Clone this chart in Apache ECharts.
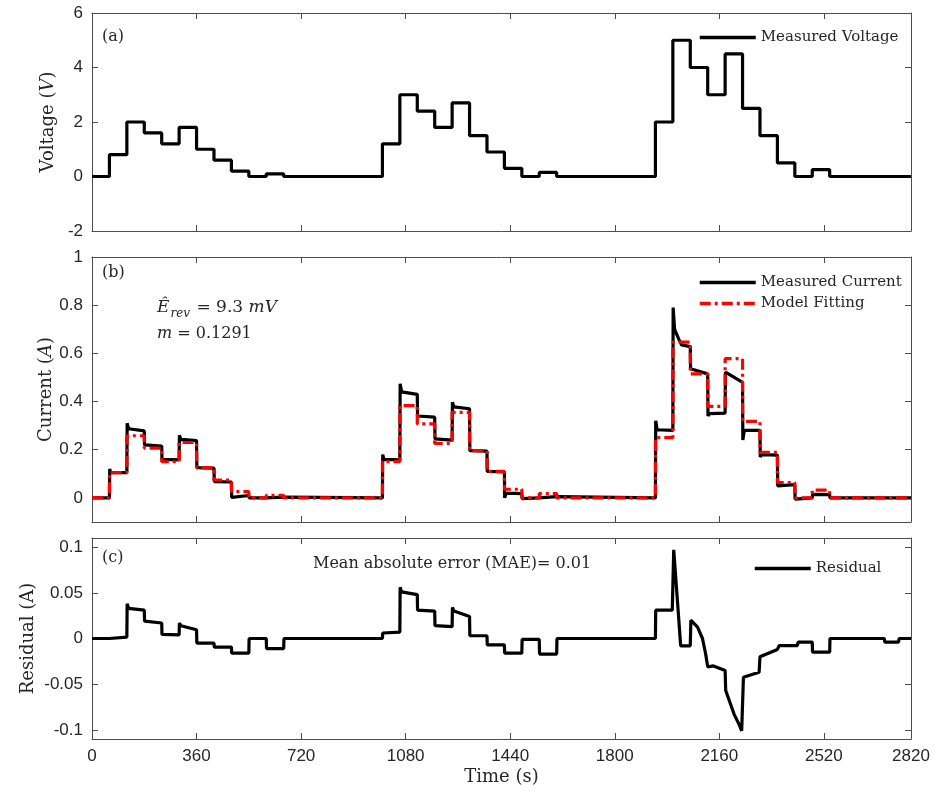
<!DOCTYPE html>
<html>
<head>
<meta charset="utf-8">
<script src="https://cdn.jsdelivr.net/npm/echarts@6/dist/echarts.min.js"></script>
<style>
html,body{margin:0;padding:0;background:#fff;}
#chart{width:934px;height:796px;}
</style>
</head>
<body>
<div id="chart"></div>
<script>
// ---- tick labels ----
const xTicks = [0, 360, 720, 1080, 1440, 1800, 2160, 2520, 2820];
const voltTicks = [-2, 0, 2, 4, 6];
const currTicks = [0, 0.2, 0.4, 0.6, 0.8, 1];
const resTicks = [-0.1, -0.05, 0, 0.05, 0.1];

// ---- step change times (s) ----
const stepTimes = [0,
  60, 120, 180, 240, 300, 360, 420, 480, 540, 600, 660,
  1000, 1060, 1120, 1180, 1240, 1300, 1360, 1420, 1480, 1540, 1600,
  1940, 2000, 2060, 2120, 2180, 2240, 2300, 2360, 2420, 2480, 2540,
  2820];

// ---- measured voltage (V), value held from each step time ----
const voltage = [0,
  0.8, 2.0, 1.6, 1.2, 1.8, 1.0, 0.6, 0.2, 0, 0.1, 0,
  1.2, 3.0, 2.4, 1.8, 2.7, 1.5, 0.9, 0.3, 0, 0.15, 0,
  2.0, 5.0, 4.0, 3.0, 4.5, 2.5, 1.5, 0.5, 0, 0.25, 0,
  0];

// ---- model fitting current (A), value held from each step time ----
const modelCurrent = [0,
  0.105, 0.258, 0.207, 0.15, 0.23, 0.125, 0.074, 0.026, 0, 0.011, 0,
  0.151, 0.383, 0.307, 0.226, 0.355, 0.196, 0.11, 0.036, 0, 0.018, 0,
  0.25, 0.647, 0.515, 0.38, 0.578, 0.318, 0.189, 0.064, 0, 0.032, 0,
  0];

// ---- measured current (A): [time, value] ----
const measuredCurrent = [
  [0,0],[60,0],[61,0.12],[64,0.105],[120,0.105],[121,0.31],[126,0.287],[180,0.278],[181,0.22],
  [240,0.215],[241,0.16],[300,0.158],[301,0.26],[306,0.243],[360,0.238],[361,0.126],[420,0.124],
  [421,0.068],[480,0.066],[481,0.002],[486,0.01],[540,0.01],[541,0],[600,0],[601,0.003],[660,0.003],[661,0],
  [1000,0],[1001,0.18],[1005,0.16],[1060,0.158],[1061,0.474],[1066,0.44],[1120,0.43],[1121,0.34],
  [1180,0.335],[1181,0.245],[1240,0.24],[1241,0.397],[1246,0.378],[1300,0.37],[1301,0.196],[1360,0.194],
  [1361,0.11],[1420,0.108],[1421,0.0],[1426,0.02],[1480,0.018],[1481,-0.003],[1486,0],[1540,0],
  [1541,0.006],[1600,0.005],[1601,0],
  [1940,0],[1941,0.32],[1946,0.283],[2000,0.28],[2001,0.79],[2006,0.7],[2020,0.66],[2030,0.635],
  [2060,0.628],[2061,0.536],[2120,0.515],[2121,0.34],[2126,0.35],[2180,0.352],[2181,0.522],[2240,0.48],
  [2241,0.24],[2246,0.28],[2300,0.28],[2301,0.17],[2306,0.18],[2360,0.178],[2361,0.05],[2366,0.057],
  [2420,0.055],[2421,-0.005],[2426,0],[2480,0],[2481,0.015],[2540,0.014],[2541,0],[2820,0]
];

// ---- residual (A): [time, value] ----
const residual = [
  [0,0],[60,0],[61,0.0015],[120,0.0015],[121,0.038],[126,0.033],[180,0.031],[181,0.019],[240,0.017],
  [241,0.0045],[300,0.004],[301,0.017],[306,0.014],[360,0.0095],[361,-0.005],[420,-0.005],[421,-0.0095],
  [480,-0.0095],[481,-0.016],[540,-0.016],[541,0],[600,0],[601,-0.011],[660,-0.011],[661,0],
  [1000,0],[1001,0.006],[1060,0.007],[1061,0.056],[1066,0.051],[1120,0.048],[1121,0.031],[1180,0.03],
  [1181,0.014],[1240,0.013],[1241,0.034],[1246,0.03],[1300,0.024],[1301,0.003],[1360,0.003],[1361,-0.007],
  [1420,-0.007],[1421,-0.016],[1480,-0.016],[1481,-0.001],[1540,-0.001],[1541,-0.017],[1600,-0.017],[1601,0],
  [1940,0],[1941,0.031],[1998,0.031],[2003,0.097],[2027,-0.008],[2060,-0.008],[2062,0.02],[2085,0.0125],
  [2102,0],[2113,-0.017],[2120,-0.031],[2140,-0.03],[2180,-0.035],[2182,-0.057],[2211,-0.083],[2228,-0.094],
  [2237,-0.101],[2243,-0.0425],[2297,-0.037],[2300,-0.02],[2360,-0.012],[2366,-0.0077],[2429,-0.0077],
  [2431,-0.004],[2480,-0.004],[2481,-0.015],[2540,-0.015],[2541,0],[2728,0],[2730,-0.004],[2777,-0.004],
  [2779,0],[2820,0]
];

// ---- build ----
const voltageData = stepTimes.map((t, i) => [t, voltage[i]]);
const modelData = stepTimes.map((t, i) => [t, modelCurrent[i]]);

const AXIS_COLOR = '#4d4d4d';
const TXT = '#262626';
const TICK_FONT = '"Liberation Sans Narrow", "Liberation Sans", Arial, sans-serif';
const SERIF = '"DejaVu Serif", "Liberation Serif", serif';

const grids = [
  {left: 92, width: 819, top: 13, height: 218},
  {left: 92, width: 819, top: 257, height: 265},
  {left: 92, width: 819, top: 538, height: 201}
];

function xAx(gi, pos, showLabel) {
  return {
    type: 'value', gridIndex: gi, position: pos, min: 0, max: 2820,
    axisLine: {show: true, onZero: false, lineStyle: {color: AXIS_COLOR, width: 1}},
    axisTick: {show: true, inside: true, length: 6, customValues: xTicks, lineStyle: {color: AXIS_COLOR}},
    axisLabel: {show: showLabel, customValues: xTicks, margin: 9, color: TXT, fontSize: 17, fontFamily: TICK_FONT,
      formatter: v => String(v)},
    splitLine: {show: false},
    name: showLabel ? 'Time (s)' : '', nameLocation: 'middle', nameGap: 29, nameMoveOverlap: false,
    nameTextStyle: {fontFamily: SERIF, fontSize: 18, color: TXT}
  };
}
function yAx(gi, pos, min, max, ticks, showLabel, name, gap, nameRich) {
  return {
    type: 'value', gridIndex: gi, position: pos, min: min, max: max,
    axisLine: {show: true, onZero: false, lineStyle: {color: AXIS_COLOR, width: 1}},
    axisTick: {show: true, inside: true, length: 6, customValues: ticks, lineStyle: {color: AXIS_COLOR}},
    axisLabel: {show: showLabel, customValues: ticks, margin: 9, color: TXT, fontSize: 17, fontFamily: TICK_FONT,
      formatter: v => String(v)},
    splitLine: {show: false},
    name: showLabel ? name : '', nameLocation: 'middle', nameGap: gap || 36, nameRotate: 90, nameMoveOverlap: false,
    nameTextStyle: {fontFamily: SERIF, fontSize: 18, color: TXT, rich: nameRich || {}}
  };
}

const italicRich = {i: {fontFamily: SERIF, fontSize: 18, fontStyle: 'italic', color: TXT}};
const legendText = {fontFamily: SERIF, fontSize: 15, color: TXT};

const option = {
  animation: false,
  backgroundColor: '#ffffff',
  grid: grids,
  xAxis: [
    xAx(0, 'bottom', false), xAx(0, 'top', false),
    xAx(1, 'bottom', false), xAx(1, 'top', false),
    xAx(2, 'bottom', true), xAx(2, 'top', false)
  ],
  yAxis: [
    yAx(0, 'left', -2, 6, voltTicks, true, 'Voltage ({i|V})', 35, italicRich), yAx(0, 'right', -2, 6, voltTicks, false),
    yAx(1, 'left', -0.1, 1, currTicks, true, 'Current ({i|A})', 37, italicRich), yAx(1, 'right', -0.1, 1, currTicks, false),
    yAx(2, 'left', -0.11, 0.11, resTicks, true, 'Residual (A)', 55), yAx(2, 'right', -0.11, 0.11, resTicks, false)
  ],
  legend: [
    {data: ['Measured Voltage'], left: 693, top: 25, itemWidth: 56, itemHeight: 14, itemGap: 6,
     itemStyle: {opacity: 0}, lineStyle: {width: 3.5}, textStyle: legendText},
    {data: ['Measured Current', 'Model Fitting'], orient: 'vertical', left: 693, top: 270, itemWidth: 56, itemHeight: 14, itemGap: 6,
     itemStyle: {opacity: 0}, lineStyle: {width: 3.5}, textStyle: legendText},
    {data: ['Residual'], left: 748, top: 556, itemWidth: 56, itemHeight: 14, itemGap: 6,
     itemStyle: {opacity: 0}, lineStyle: {width: 3.5}, textStyle: legendText}
  ],
  series: [
    {name: 'Measured Voltage', type: 'line', xAxisIndex: 0, yAxisIndex: 0, data: voltageData, step: 'end',
     symbol: 'none', lineStyle: {color: '#000', width: 3.2}, itemStyle: {color: '#000'}},
    {name: 'Measured Current', type: 'line', xAxisIndex: 2, yAxisIndex: 2, data: measuredCurrent,
     symbol: 'none', lineStyle: {color: '#000', width: 3.2}, itemStyle: {color: '#000'}},
    {name: 'Model Fitting', type: 'line', xAxisIndex: 2, yAxisIndex: 2, data: modelData, step: 'end',
     symbol: 'none', lineStyle: {color: '#ff0000', width: 3.2, type: [11, 4, 3, 4]}, itemStyle: {color: '#ff0000'}},
    {name: 'Residual', type: 'line', xAxisIndex: 4, yAxisIndex: 4, data: residual,
     symbol: 'none', lineStyle: {color: '#000', width: 3.2}, itemStyle: {color: '#000'}}
  ],
  graphic: [
    {type: 'text', left: 102, top: 29, style: {text: '(a)', font: '16px ' + SERIF, fill: TXT}},
    {type: 'text', left: 102, top: 265, style: {text: '(b)', font: '16px ' + SERIF, fill: TXT}},
    {type: 'text', left: 102, top: 550, style: {text: '(c)', font: '16px ' + SERIF, fill: TXT}},
    {type: 'text', left: 157, top: 299, style: {
      text: '{e|Ê}{s|rev}{n| = 9.3 }{e|mV}',
      rich: {
        e: {fontFamily: SERIF, fontSize: 17, fontStyle: 'italic', fill: TXT, verticalAlign: 'bottom'},
        s: {fontFamily: SERIF, fontSize: 12, fontStyle: 'italic', fill: TXT, verticalAlign: 'bottom', padding: [0, 1, -4, 1]},
        n: {fontFamily: SERIF, fontSize: 17, fill: TXT, verticalAlign: 'bottom'}
      }}},
    {type: 'text', left: 157, top: 326, style: {
      text: '{e|m}{n| = 0.1291}',
      rich: {
        e: {fontFamily: SERIF, fontSize: 16, fontStyle: 'italic', fill: TXT},
        n: {fontFamily: SERIF, fontSize: 16, fill: TXT}
      }}},
    {type: 'text', left: 313, top: 556, style: {text: 'Mean absolute error (MAE)= 0.01', font: '16px ' + SERIF, fill: TXT}}
  ]
};

const chart = echarts.init(document.getElementById('chart'), null, {renderer: 'canvas'});
chart.setOption(option);
</script>
</body>
</html>
